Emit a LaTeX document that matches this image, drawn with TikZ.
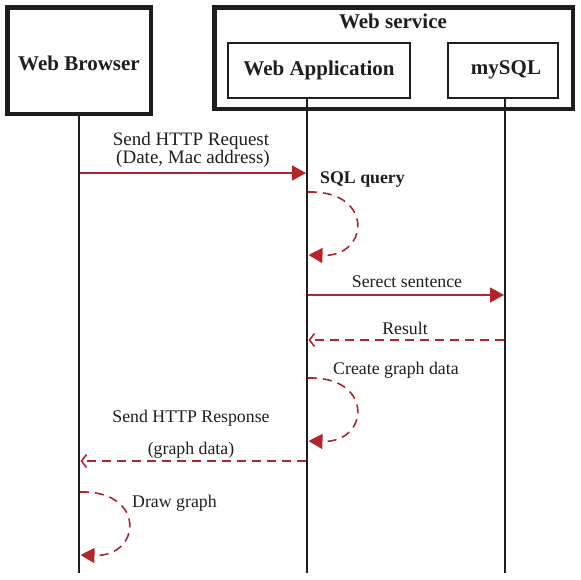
\documentclass[tikz,border=0pt]{standalone}
\usepackage{fontspec}
\setmainfont{Liberation Serif}
\usetikzlibrary{arrows.meta}
\definecolor{arrred}{HTML}{B0262E}
\definecolor{ink}{HTML}{1E1E1E}
\tikzset{
  bigbox/.style={draw=ink,line width=4.5pt,rectangle,inner sep=0pt},
  smallbox/.style={draw=ink,line width=2pt,rectangle,inner sep=0pt},
  title/.style={font=\fontsize{21}{23}\selectfont\bfseries,text=ink},
  lbl/.style={font=\fontsize{17.8}{20}\selectfont,text=ink,inner sep=0pt},
  lifeline/.style={draw=ink,line width=2.4pt},
  callarrow/.style={draw=arrred,line width=1.6pt,-{Triangle[length=14pt,width=15pt]}},
  retarrow/.style={draw=arrred,line width=1.6pt,dash pattern=on 9pt off 6pt,-{Straight Barb[length=5pt,width=13pt,line width=1.6pt]}},
  selfloop/.style={draw=arrred,line width=1.6pt,dash pattern=on 9pt off 6pt,-{Triangle[length=14pt,width=15pt]}},
}
\begin{document}
\begin{tikzpicture}[x=1pt,y=-1pt]
\useasboundingbox (0,0) rectangle (581,579);
% boxes
\node[bigbox,minimum width=143.5pt,minimum height=106.5pt] (wb) at (79,60.5) {};
\node[title] (wbt) at (79,63) {Web Browser};
\node[bigbox,minimum width=358.5pt,minimum height=101.5pt] (ws) at (393.5,58) {};
\node[title] (wst) at (393,21) {Web service};
\node[smallbox,minimum width=182pt,minimum height=55pt] (wa) at (319,70.5) {};
\node[title] (wat) at (319,70) {Web Application};
\node[smallbox,minimum width=110pt,minimum height=55pt] (db) at (503,70.5) {};
\node[title] (dbt) at (506,70) {mySQL};
% lifelines
\coordinate (wbtop) at (79,116);
\coordinate (watop) at (307,99);
\coordinate (dbtop) at (505,99);
\coordinate (wbend) at (79,573);
\coordinate (waend) at (307,573);
\coordinate (dbend) at (505,573);
\draw[lifeline] (wbtop) -- (wbend);
\draw[lifeline] (watop) -- (waend);
\draw[lifeline] (dbtop) -- (dbend);
% message points
\coordinate (m1a) at (80,173);
\coordinate (m1b) at (306,173);
\coordinate (l1a) at (308,192);
\coordinate (l1b) at (308.5,255);
\coordinate (m2a) at (308,295);
\coordinate (m2b) at (504,295);
\coordinate (m3a) at (504,340);
\coordinate (m3b) at (308.5,340);
\coordinate (l2a) at (308,378);
\coordinate (l2b) at (308.5,441);
\coordinate (m4a) at (306,461);
\coordinate (m4b) at (80.5,461);
\coordinate (l3a) at (80,492);
\coordinate (l3b) at (80.5,555);
% messages
\draw[callarrow] (m1a) -- (m1b);
\node[lbl,font=\fontsize{19}{21}\selectfont] (t1) at (191,141) {Send HTTP Request};
\node[lbl,font=\fontsize{19}{21}\selectfont] (t1b) at (193,159) {(Date, Mac address)};
\draw[selfloop] (l1a) .. controls (374,190) and (370,257) .. (l1b);
\node[lbl,font=\fontsize{17.8}{20}\selectfont\bfseries,anchor=west] (t2) at (320,180) {SQL query};
\draw[callarrow] (m2a) -- (m2b);
\node[lbl] (t3) at (407,282) {Serect sentence};
\draw[retarrow] (m3a) -- (m3b);
\node[lbl] (t4) at (405,328) {Result};
\draw[selfloop] (l2a) .. controls (374,376) and (370,443) .. (l2b);
\node[lbl,anchor=west] (t5) at (333,370) {Create graph data};
\draw[retarrow] (m4a) -- (m4b);
\node[lbl] (t6) at (191,418) {Send HTTP Response};
\node[lbl] (t6b) at (191,450) {(graph data)};
\draw[selfloop] (l3a) .. controls (146,490) and (142,557) .. (l3b);
\node[lbl,anchor=west] (t7) at (132,503) {Draw graph};
\end{tikzpicture}
\end{document}
